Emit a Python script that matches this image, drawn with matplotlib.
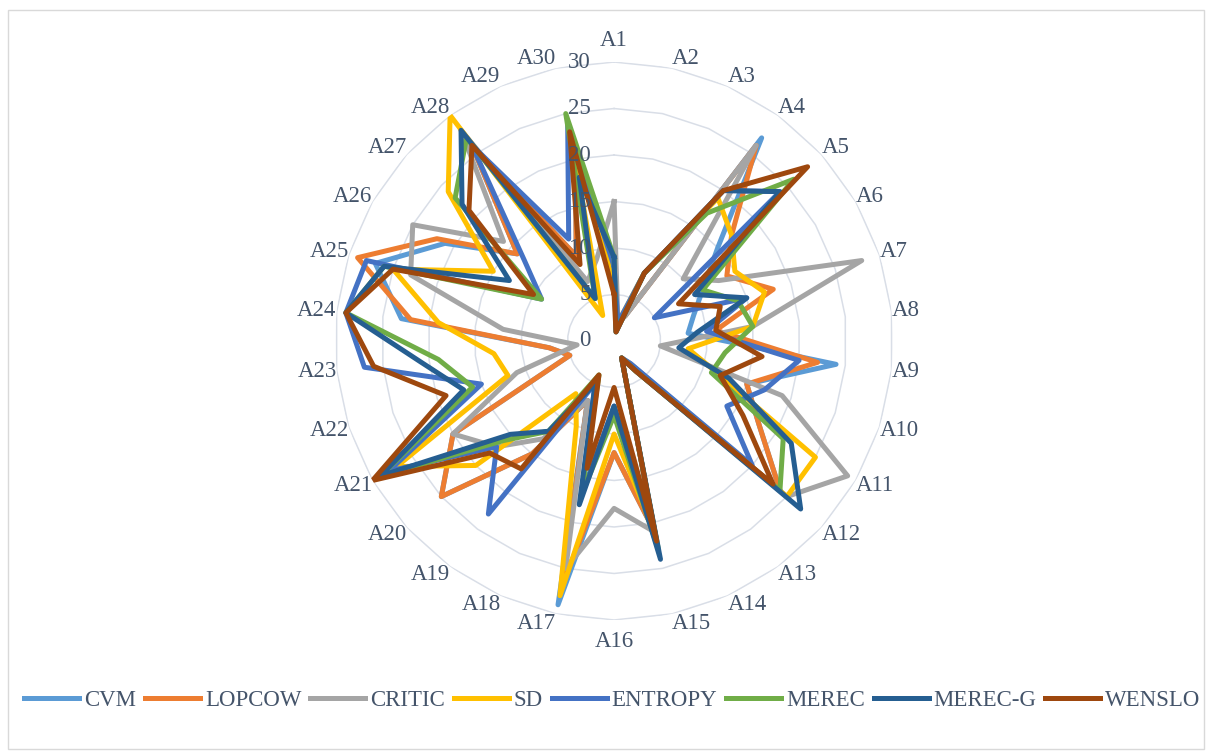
import numpy as np
import matplotlib
matplotlib.use("Agg")
import matplotlib.pyplot as plt
from matplotlib.lines import Line2D
from matplotlib.patches import Rectangle

categories = ["A1", "A2", "A3", "A4", "A5", "A6", "A7", "A8", "A9", "A10",
              "A11", "A12", "A13", "A14", "A15", "A16", "A17", "A18", "A19", "A20",
              "A21", "A22", "A23", "A24", "A25", "A26", "A27", "A28", "A29", "A30"]

cvm = [7, 2, 3, 27, 15, 11, 9, 8, 24, 15, 18, 24, 4, 2, 21, 12, 29, 7, 15, 25,
       20, 5, 7, 23, 27, 21, 14, 26, 10, 20]
lopcow = [7, 2, 3, 26, 17, 14, 18, 11, 22, 15, 18, 24, 4, 2, 21, 12, 27, 7, 15, 25,
          20, 5, 7, 22, 29, 22, 14, 26, 10, 20]
critic = [15, 2, 3, 26, 10, 13, 28, 15, 5, 19, 29, 25, 3, 2, 21, 18, 25, 7, 13, 17,
          20, 11, 4, 12, 23, 25, 16, 28, 7, 9]
sd = [7, 2, 8, 19, 17, 15, 17, 15, 8, 12, 25, 25, 4, 2, 21, 10, 28, 10, 7, 20,
      27, 12, 13, 19, 25, 15, 24, 30, 3, 21]
entropy = [8, 2, 8, 20, 24, 5, 15, 10, 20, 17, 14, 20, 3, 2, 22, 7, 17, 5, 23, 17,
           28, 15, 27, 29, 28, 9, 13, 26, 12, 24]
merec = [9, 1, 8, 17, 26, 11, 14, 15, 12, 11, 21, 24, 4, 2, 23, 8, 17, 4, 12, 16,
         29, 16, 19, 29, 26, 9, 23, 27, 5, 25]
merec_g = [9, 1, 8, 20, 24, 10, 15, 9, 7, 13, 22, 27, 4, 2, 24, 7, 18, 5, 12, 15,
           29, 17, 21, 29, 26, 13, 22, 28, 5, 18]
wenslo = [5, 1, 8, 20, 28, 8, 12, 11, 16, 12, 16, 23, 4, 2, 22, 5, 14, 4, 17, 18,
          30, 19, 26, 29, 25, 10, 21, 26, 9, 23]

series_names = ["CVM", "LOPCOW", "CRITIC", "SD", "ENTROPY", "MEREC", "MEREC-G", "WENSLO"]
series_data = [cvm, lopcow, critic, sd, entropy, merec, merec_g, wenslo]
colors = ["#5B9BD5", "#ED7D31", "#A5A5A5", "#FFC000", "#4472C4", "#70AD47", "#255E91", "#9E480E"]
ring_levels = [0, 5, 10, 15, 20, 25, 30]

text_color = "#44546A"
grid_color = "#D9DEE7"
font = "Liberation Serif"
fsize = 16.5
px = 72 / 100  # points per pixel at dpi 100

fig = plt.figure(figsize=(12.08, 7.54), dpi=100)
fig.patches.append(Rectangle((0.0066, 0.006), 0.990, 0.981, transform=fig.transFigure,
                             fill=False, edgecolor="#D9D9D9", linewidth=1.0))

ax = fig.add_axes([0.2774, 0.1777, 0.4619, 0.7401], projection="polar")
ax.set_theta_zero_location("N")
ax.set_theta_direction(-1)
ax.set_ylim(0, 30)
ax.grid(False)
ax.set_xticks([])
ax.set_yticks([])
ax.spines["polar"].set_visible(False)
ax.patch.set_alpha(0)

n = len(categories)
angles = np.linspace(0, 2 * np.pi, n, endpoint=False)
closed = np.append(angles, angles[0])

# polygon grid rings like Excel's radar chart
for lvl in ring_levels[1:]:
    ax.plot(closed, [lvl] * (n + 1), color=grid_color, lw=1.1, zorder=0)

# value axis labels, just left of the A1 spoke
for lvl in ring_levels:
    ax.annotate(str(lvl), xy=(0, lvl), xytext=(-17, 0), textcoords="offset points",
                ha="right", va="center", fontsize=fsize, color=text_color, family=font,
                annotation_clip=False)

# category labels: corner of the text sits on the outer ring
for ang, lab in zip(angles, categories):
    s, c = np.sin(ang), np.cos(ang)
    if abs(s) < 1e-6:
        ha, dy = "center", c * 22
    else:
        ha, dy = ("left" if s > 0 else "right"), c * 10
    ax.annotate(lab, xy=(ang, 30), xytext=(0, dy * px), textcoords="offset points",
                ha=ha, va="center", fontsize=fsize, color=text_color, family=font,
                annotation_clip=False)

for name, vals, col in zip(series_names, series_data, colors):
    v = np.append(vals, vals[0])
    ax.plot(closed, v, color=col, lw=3.6, solid_joinstyle="round", label=name)

handles = [Line2D([0], [0], color=c, lw=3.6) for c in colors]
fig.legend(handles, series_names, loc="center", bbox_to_anchor=(0.507, 0.0716), ncol=8,
           frameon=False, handlelength=2.4, handletextpad=0.22, columnspacing=0.38,
           prop={"family": font, "size": fsize}, labelcolor=text_color)

fig.savefig("out.png", dpi=100)
